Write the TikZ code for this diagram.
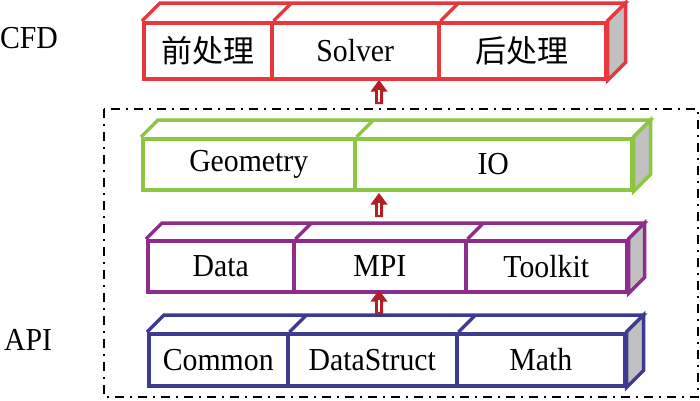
\documentclass[tikz,border=0pt]{standalone}
\usepackage{fontspec}
\setmainfont[FakeStretch=0.93]{Liberation Serif}
\newfontfamily\cjk{Noto Sans CJK SC}
\usetikzlibrary{calc}
\definecolor{cfdred}{HTML}{E8383D}
\definecolor{geogreen}{HTML}{8DC641}
\definecolor{datapurple}{HTML}{8E2C8C}
\definecolor{apiblue}{HTML}{3E3A92}
\definecolor{sidegray}{HTML}{C0C0C0}
\definecolor{arrowred}{HTML}{B02025}
\tikzset{
  cell/.style={draw=#1, line width=3.5pt, fill=white, inner sep=0pt, anchor=north west,
    font=\fontsize{32}{34}\selectfont},
  faceline/.style={draw=#1, line width=3.5pt, line join=miter},
  sideface/.style={fill=sidegray, draw=#1, line width=3.5pt, line join=miter},
  arrowbody/.style={fill=arrowred},
  arrowstripe/.style={draw=white, line width=1.4pt},
  frame/.style={draw=black, line width=2.4pt, dash pattern=on 9pt off 6pt on 2pt off 6pt},
  sidelabel/.style={font=\fontsize{32}{34}\selectfont}
}
\newcommand\myuparrow[1]{%
  \fill[arrowbody] (#1) ++(-4,12) -- ++(8,0) -- ++(0,-12.5) -- ++(4.5,0) -- ++(-8.5,-11.5)
     -- ++(-8.5,11.5) -- ++(4.5,0) -- cycle;
  \draw[arrowstripe] ($(#1)+(0,9.5)$) -- ($(#1)+(0,-2.5)$);}
\begin{document}
\begin{tikzpicture}[x=1pt,y=-1pt]
\useasboundingbox (0,0) rectangle (700,400);

% outer dash-dot frame
\draw[frame] (104,109) rectangle (698,397);

% labels
\node[sidelabel] (cfdlab) at (29,38) {CFD};
\node[sidelabel] (apilab) at (28,340) {API};

% ---------- CFD row ----------
\node[cell=cfdred, minimum width=128pt, minimum height=56pt] (pre) at (142,21) {\cjk\fontsize{31}{32}\selectfont 前处理};
\node[cell=cfdred, minimum width=167pt, minimum height=56pt] (solver) at (270,21) {Solver};
\node[cell=cfdred, minimum width=167pt, minimum height=56pt] (post) at (437,21) {\cjk\fontsize{31}{32}\selectfont 后处理};
\draw[faceline=cfdred] (pre.north west) -- ++(18,-18) -- ($(post.north east)+(18,-18)$) -- (post.north east);
\draw[faceline=cfdred] (pre.north east) -- ++(18,-18) (solver.north east) -- ++(18,-18);
\draw[sideface=cfdred] (post.north east) -- ++(18,-18) -- ($(post.south east)+(18,-18)$) -- (post.south east) -- cycle;

% ---------- Geometry row ----------
\node[cell=geogreen, minimum width=212pt, minimum height=51pt] (geom) at (141,137) {Geometry};
\node[cell=geogreen, minimum width=277pt, minimum height=51pt] (io) at (353,137) {IO};
\draw[faceline=geogreen] (geom.north west) -- ++(17,-17) -- ($(io.north east)+(17,-17)$) -- (io.north east);
\draw[faceline=geogreen] (geom.north east) -- ++(17,-17);
\draw[sideface=geogreen] (io.north east) -- ++(17,-17) -- ($(io.south east)+(17,-17)$) -- (io.south east) -- cycle;

% ---------- Data row ----------
\node[cell=datapurple, minimum width=146pt, minimum height=51pt] (data) at (146,239) {Data};
\node[cell=datapurple, minimum width=172pt, minimum height=51pt] (mpi) at (292,239) {MPI};
\node[cell=datapurple, minimum width=161pt, minimum height=51pt] (toolkit) at (464,239) {Toolkit};
\draw[faceline=datapurple] (data.north west) -- ++(16,-16) -- ($(toolkit.north east)+(16,-16)$) -- (toolkit.north east);
\draw[faceline=datapurple] (data.north east) -- ++(16,-16) (mpi.north east) -- ++(16,-16);
\draw[sideface=datapurple] (toolkit.north east) -- ++(16,-16) -- ($(toolkit.south east)+(16,-16)$) -- (toolkit.south east) -- cycle;

% ---------- API row ----------
\node[cell=apiblue, minimum width=139pt, minimum height=52pt] (common) at (147,332) {Common};
\node[cell=apiblue, minimum width=169pt, minimum height=52pt] (dstruct) at (286,332) {DataStruct};
\node[cell=apiblue, minimum width=168pt, minimum height=52pt] (math) at (455,332) {Math};
\draw[faceline=apiblue] (common.north west) -- ++(17,-17) -- ($(math.north east)+(17,-17)$) -- (math.north east);
\draw[faceline=apiblue] (common.north east) -- ++(17,-17) (dstruct.north east) -- ++(17,-17);
\draw[sideface=apiblue] (math.north east) -- ++(17,-17) -- ($(math.south east)+(17,-17)$) -- (math.south east) -- cycle;

% ---------- arrows ----------
\coordinate (a1) at (379,92);
\coordinate (a2) at (379,205);
\coordinate (a3) at (379,302);
\myuparrow{a1}
\myuparrow{a2}
\myuparrow{a3}
\end{tikzpicture}
\end{document}
